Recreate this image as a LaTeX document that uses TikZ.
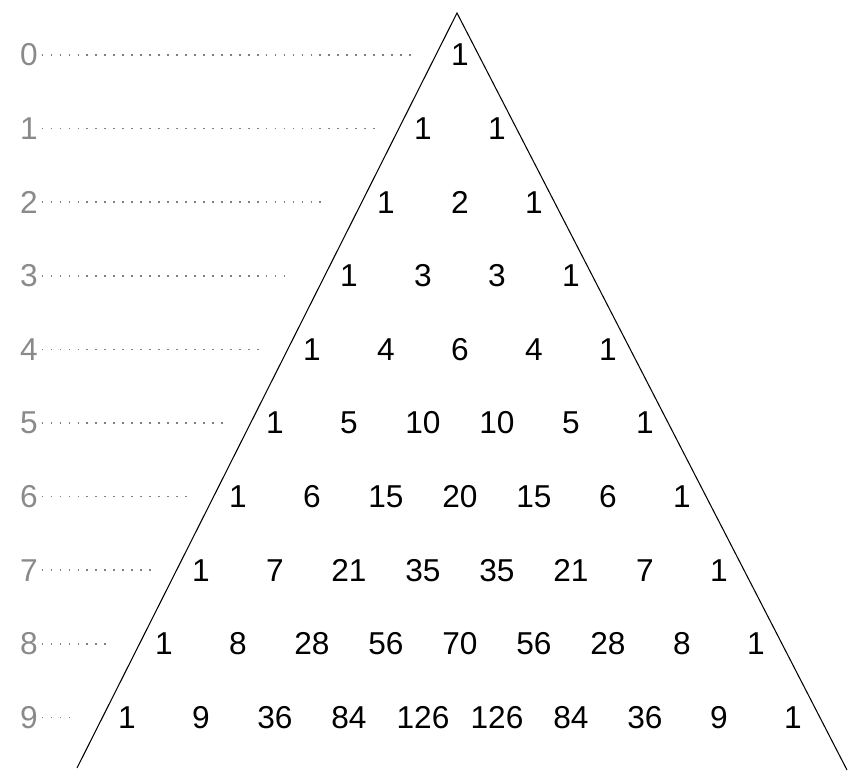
\documentclass[tikz,border=0pt]{standalone}
\usepackage{fontspec}
\setmainfont{Liberation Sans}
\definecolor{rowgray}{HTML}{8A8A8A}
\definecolor{dotgray}{HTML}{808080}
\usetikzlibrary{calc}
\tikzset{
  num/.style={font=\fontsize{18}{20}\selectfont, text=black, inner sep=1pt},
  lbl/.style={font=\fontsize{18}{20}\selectfont, text=rowgray, inner sep=2pt},
  dots/.style={dotgray, line width=1pt, dash pattern=on 1pt off 4.1pt},
  side/.style={black, line width=0.6pt},
}

\begin{document}
\begin{tikzpicture}
  \useasboundingbox (0,0) rectangle (16.96,-15.58);

  % outline of the triangle
  \coordinate (apex) at (9.14,-0.26);
  \coordinate (bl) at (1.54,-15.36);
  \coordinate (br) at (16.94,-15.40);
  \draw[side] (bl) -- (apex) -- (br);

  % rows: number / entries / end of the dotted guide
  \foreach \n/\row/\e in {0/{1}/8.24, 1/{1,1}/7.56, 2/{1,2,1}/6.5,
      3/{1,3,3,1}/5.76, 4/{1,4,6,4,1}/5.3, 5/{1,5,10,10,5,1}/4.56,
      6/{1,6,15,20,15,6,1}/3.84, 7/{1,7,21,35,35,21,7,1}/3.1,
      8/{1,8,28,56,70,56,28,8,1}/2.16,
      9/{1,9,36,84,126,126,84,36,9,1}/1.44} {
    \foreach \v [count=\i from 0] in \row {
      \node[num] (p-\n-\i) at ({9.2+(2*\i-\n)*0.74}, {-1.1-1.472*\n}) {\v};
    }
    \node[lbl] (lbl-\n) at (0.58, {-1.1-1.472*\n}) {\n};
    \coordinate (dend-\n) at (\e, {-1.1-1.472*\n});
    \draw[dots] (lbl-\n.east) -- (dend-\n);
  }
\end{tikzpicture}
\end{document}
